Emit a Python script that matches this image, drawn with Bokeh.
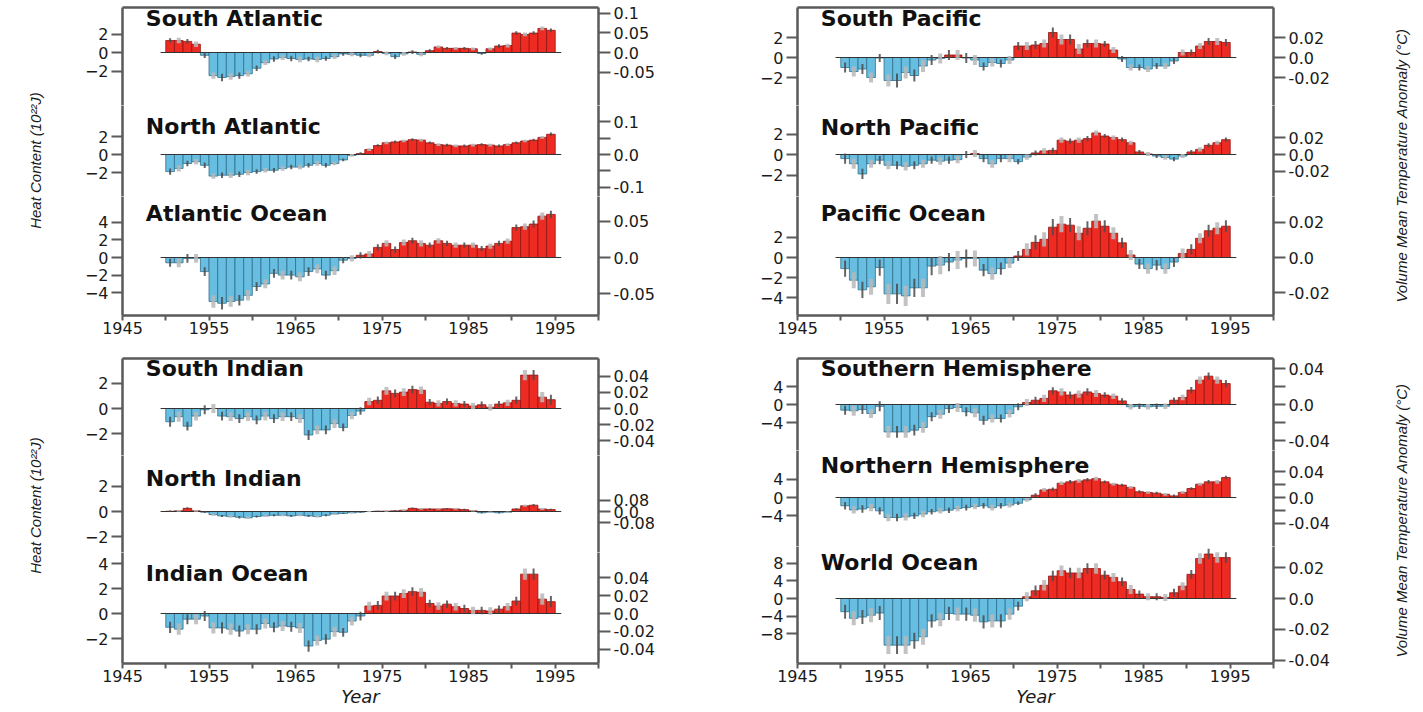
from math import pi
from bokeh.plotting import figure
from bokeh.models import Range1d, LinearAxis, FixedTicker, Label, ColumnDataSource
from bokeh.layouts import row, column
from bokeh.embed import file_html
from bokeh.resources import INLINE
from bokeh.core.properties import value
from bokeh.transform import dodge

# ---------------- data ----------------
years = list(range(1950, 1995))
x_ticks = [1945, 1950, 1955, 1960, 1965, 1970, 1975, 1980, 1985, 1990, 1995, 2000]
x_tick_labels = ["1945", "", "1955", "", "1965", "", "1975", "", "1985", "", "1995", ""]

south_atlantic = [1.3, 1.3, 1.2, 0.9, -0.3, -2.5, -2.7, -2.6, -2.5, -2.3,
                  -1.7, -1.1, -0.7, -0.55, -0.65, -0.75, -0.7, -0.75, -0.65, -0.45,
                  -0.15, -0.2, -0.3, -0.3, 0.1, -0.1, -0.45, -0.15, 0.05, -0.2,
                  0.2, 0.6, 0.45, 0.45, 0.45, 0.4, -0.1, 0.4, 0.7, 0.75,
                  2.1, 1.95, 2.1, 2.6, 2.4]
south_atlantic_err = [0.25, 0.3, 0.25, 0.3, 0.3, 0.35, 0.4, 0.35, 0.35, 0.3,
                      0.3, 0.25, 0.3, 0.25, 0.3, 0.3, 0.25, 0.3, 0.25, 0.25,
                      0.2, 0.2, 0.2, 0.2, 0.2, 0.2, 0.25, 0.2, 0.2, 0.2,
                      0.15, 0.15, 0.15, 0.15, 0.15, 0.15, 0.15, 0.15, 0.2, 0.2,
                      0.2, 0.2, 0.2, 0.2, 0.2]
north_atlantic = [-1.9, -1.55, -1.0, -0.8, -1.2, -2.4, -2.3, -2.3, -2.2, -2.0,
                  -1.9, -1.75, -1.75, -1.55, -1.4, -1.4, -1.2, -1.0, -1.2, -1.0,
                  -0.6, -0.1, 0.1, 0.55, 1.0, 1.3, 1.4, 1.5, 1.65, 1.6,
                  1.3, 1.1, 1.05, 0.95, 0.95, 1.05, 1.1, 1.05, 0.95, 1.1,
                  1.3, 1.5, 1.6, 1.9, 2.25]
north_atlantic_err = [0.35, 0.35, 0.3, 0.3, 0.3, 0.3, 0.3, 0.3, 0.3, 0.3,
                      0.25, 0.25, 0.25, 0.25, 0.25, 0.25, 0.25, 0.25, 0.25, 0.2,
                      0.15, 0.15, 0.15, 0.15, 0.15, 0.15, 0.15, 0.15, 0.15, 0.15,
                      0.15, 0.15, 0.15, 0.15, 0.15, 0.15, 0.15, 0.15, 0.15, 0.15,
                      0.15, 0.15, 0.15, 0.15, 0.2]
atlantic = [-0.6, -0.6, -0.1, -0.1, -1.6, -5.0, -5.2, -5.0, -4.85, -4.3,
            -3.3, -3.0, -1.8, -2.0, -2.0, -2.2, -1.6, -1.3, -2.0, -1.5,
            -0.3, -0.1, 0.25, 0.4, 1.15, 1.6, 0.9, 1.7, 1.9, 1.6,
            1.4, 1.9, 1.6, 1.4, 1.4, 1.4, 1.0, 1.3, 1.6, 1.85,
            3.4, 3.5, 3.8, 4.7, 4.9]
atlantic_err = [0.45, 0.5, 0.5, 0.5, 0.5, 0.7, 0.7, 0.6, 0.6, 0.6,
                0.5, 0.5, 0.5, 0.5, 0.5, 0.5, 0.5, 0.5, 0.5, 0.5,
                0.35, 0.35, 0.35, 0.35, 0.35, 0.35, 0.35, 0.35, 0.35, 0.35,
                0.3, 0.3, 0.3, 0.3, 0.3, 0.3, 0.3, 0.3, 0.3, 0.3,
                0.35, 0.35, 0.4, 0.4, 0.4]
south_pacific = [-1.0, -1.4, -1.15, -2.0, -0.05, -2.3, -2.3, -1.5, -1.8, -0.85,
                 -0.25, -0.1, 0.25, 0.25, -0.05, -0.25, -0.9, -0.5, -0.6, -0.25,
                 1.15, 1.15, 1.25, 1.4, 2.5, 1.8, 1.8, 0.85, 1.4, 1.4,
                 1.35, 0.75, -0.15, -1.0, -1.0, -1.15, -0.85, -0.85, -0.35, 0.5,
                 0.5, 1.15, 1.6, 1.6, 1.5]
south_pacific_err = [0.5, 0.5, 0.5, 0.5, 0.4, 0.6, 0.7, 0.6, 0.6, 0.6,
                     0.5, 0.5, 0.5, 0.5, 0.5, 0.5, 0.4, 0.4, 0.4, 0.4,
                     0.4, 0.4, 0.4, 0.4, 0.5, 0.5, 0.5, 0.5, 0.4, 0.4,
                     0.3, 0.3, 0.3, 0.3, 0.3, 0.3, 0.3, 0.3, 0.3, 0.3,
                     0.3, 0.3, 0.35, 0.35, 0.35]
north_pacific = [-0.4, -0.9, -1.9, -0.9, -0.55, -1.05, -1.05, -1.15, -1.05, -0.9,
                 -0.55, -0.65, -0.55, -0.5, 0.0, 0.1, -0.4, -0.9, -0.4, -0.4,
                 -0.7, -0.25, 0.15, 0.35, 0.4, 1.4, 1.3, 1.4, 1.55, 2.1,
                 1.8, 1.65, 1.45, 1.15, 0.25, 0.05, -0.15, -0.3, -0.45, -0.15,
                 0.25, 0.5, 0.9, 1.15, 1.45]
north_pacific_err = [0.5, 0.5, 0.5, 0.4, 0.4, 0.4, 0.4, 0.4, 0.4, 0.4,
                     0.35, 0.35, 0.35, 0.35, 0.35, 0.35, 0.35, 0.4, 0.35, 0.35,
                     0.25, 0.25, 0.25, 0.25, 0.25, 0.25, 0.25, 0.25, 0.25, 0.25,
                     0.2, 0.2, 0.2, 0.2, 0.2, 0.2, 0.2, 0.2, 0.2, 0.2,
                     0.2, 0.2, 0.2, 0.2, 0.2]
pacific = [-1.1, -2.25, -3.2, -2.9, -1.0, -3.6, -3.6, -3.8, -3.0, -3.0,
           -0.85, -0.75, -0.45, -0.25, -0.1, -0.1, -1.25, -1.6, -1.1, -0.55,
           0.15, 0.8, 1.5, 1.8, 3.0, 3.3, 3.2, 2.4, 2.9, 3.6,
           3.1, 2.4, 1.45, 0.25, -0.65, -1.1, -0.75, -1.1, -0.45, 0.4,
           0.8, 1.9, 2.65, 2.9, 3.1]
pacific_err = [0.8, 0.8, 0.8, 0.8, 0.8, 1.0, 1.0, 1.0, 0.9, 0.9,
               0.9, 0.9, 0.9, 0.9, 0.9, 0.8, 0.6, 0.6, 0.6, 0.5,
               0.5, 0.6, 0.7, 0.7, 0.8, 0.8, 0.7, 0.7, 0.7, 0.7,
               0.6, 0.6, 0.5, 0.5, 0.5, 0.5, 0.5, 0.5, 0.5, 0.5,
               0.5, 0.5, 0.6, 0.6, 0.6]
south_indian = [-1.05, -0.65, -1.4, -0.6, -0.1, 0.0, -0.6, -0.65, -0.8, -0.65,
                -0.9, -0.6, -0.8, -0.65, -0.65, -0.8, -2.1, -1.7, -1.7, -1.2,
                -1.5, -0.55, -0.2, 0.55, 0.65, 1.4, 1.2, 1.3, 1.5, 1.45,
                0.5, 0.4, 0.55, 0.4, 0.35, 0.2, 0.3, 0.1, 0.35, 0.45,
                0.65, 2.65, 2.65, 0.9, 0.7]
south_indian_err = [0.4, 0.4, 0.35, 0.35, 0.35, 0.35, 0.35, 0.35, 0.35, 0.35,
                    0.35, 0.35, 0.35, 0.35, 0.35, 0.35, 0.4, 0.35, 0.35, 0.35,
                    0.3, 0.3, 0.3, 0.3, 0.3, 0.3, 0.3, 0.3, 0.3, 0.3,
                    0.25, 0.25, 0.25, 0.25, 0.25, 0.25, 0.25, 0.25, 0.25, 0.25,
                    0.3, 0.4, 0.4, 0.4, 0.4]
north_indian = [0.02, 0.05, 0.25, 0.05, -0.05, -0.25, -0.35, -0.4, -0.45, -0.5,
                -0.4, -0.35, -0.3, -0.3, -0.35, -0.3, -0.35, -0.4, -0.3, -0.2,
                -0.15, -0.1, -0.05, 0.0, 0.02, 0.03, 0.05, 0.1, 0.25, 0.2,
                0.2, 0.2, 0.22, 0.2, 0.15, 0.05, -0.1, -0.05, -0.1, -0.05,
                0.2, 0.45, 0.5, 0.2, 0.15]
north_indian_err = [0.05, 0.06, 0.08, 0.06, 0.06, 0.08, 0.08, 0.1, 0.1, 0.1,
                    0.08, 0.08, 0.08, 0.08, 0.08, 0.08, 0.08, 0.08, 0.08, 0.06,
                    0.05, 0.05, 0.05, 0.05, 0.05, 0.05, 0.06, 0.06, 0.06, 0.06,
                    0.06, 0.06, 0.06, 0.06, 0.06, 0.05, 0.05, 0.05, 0.05, 0.05,
                    0.06, 0.08, 0.1, 0.08, 0.06]
indian = [-1.1, -1.25, -0.45, -0.45, -0.2, -1.15, -1.15, -1.25, -1.4, -1.25,
          -1.25, -0.8, -1.1, -1.0, -1.05, -1.15, -2.6, -2.15, -2.05, -1.45,
          -1.5, -0.6, -0.2, 0.6, 0.65, 1.4, 1.4, 1.6, 1.75, 1.7,
          0.8, 0.6, 0.75, 0.55, 0.4, 0.25, 0.25, 0.2, 0.35, 0.55,
          1.0, 3.15, 3.15, 1.15, 0.95]
indian_err = [0.45, 0.45, 0.4, 0.4, 0.4, 0.45, 0.45, 0.45, 0.45, 0.4,
              0.4, 0.4, 0.4, 0.4, 0.4, 0.4, 0.45, 0.4, 0.4, 0.4,
              0.35, 0.35, 0.35, 0.35, 0.35, 0.35, 0.35, 0.35, 0.35, 0.35,
              0.3, 0.3, 0.3, 0.3, 0.3, 0.3, 0.3, 0.3, 0.3, 0.3,
              0.35, 0.45, 0.45, 0.45, 0.45]
southern_hem = [-1.25, -1.4, -1.1, -2.0, -0.4, -6.1, -6.1, -6.1, -5.7, -5.1,
                -2.7, -2.15, -0.9, -0.65, -1.6, -1.85, -3.5, -3.1, -3.1, -2.0,
                -0.5, 0.45, 0.95, 1.35, 3.05, 2.8, 2.1, 2.3, 2.8, 2.45,
                2.1, 1.85, 0.8, -0.5, -0.4, -0.5, -0.4, -0.4, 0.95, 1.55,
                3.2, 5.4, 6.3, 5.4, 4.65]
southern_hem_err = [1.0, 1.1, 1.0, 1.0, 1.1, 1.3, 1.3, 1.3, 1.2, 1.2,
                    1.0, 1.0, 1.0, 1.0, 1.0, 1.0, 1.0, 0.9, 0.9, 0.9,
                    0.8, 0.8, 0.8, 0.8, 0.8, 0.8, 0.8, 0.8, 0.8, 0.8,
                    0.6, 0.6, 0.6, 0.6, 0.6, 0.6, 0.6, 0.6, 0.6, 0.6,
                    0.7, 0.8, 0.8, 0.8, 0.8]
northern_hem = [-1.8, -2.7, -2.5, -2.2, -2.9, -4.35, -4.35, -4.2, -4.0, -3.6,
                -3.1, -2.9, -2.75, -2.4, -2.2, -1.95, -1.8, -2.2, -1.8, -1.65,
                -1.25, -0.5, 0.5, 1.65, 1.8, 3.1, 3.4, 3.6, 3.85, 4.1,
                3.4, 2.9, 2.7, 2.2, 1.25, 1.1, 0.95, 0.7, 0.35, 1.1,
                1.95, 2.9, 3.4, 3.4, 4.35]
northern_hem_err = [0.8, 0.8, 0.8, 0.8, 0.8, 0.8, 0.8, 0.8, 0.7, 0.7,
                    0.6, 0.6, 0.6, 0.6, 0.6, 0.6, 0.6, 0.6, 0.6, 0.5,
                    0.4, 0.4, 0.4, 0.4, 0.4, 0.4, 0.4, 0.4, 0.4, 0.4,
                    0.3, 0.3, 0.3, 0.3, 0.3, 0.3, 0.3, 0.3, 0.3, 0.3,
                    0.3, 0.3, 0.4, 0.4, 0.4]
world = [-3.0, -4.5, -4.2, -3.8, -3.3, -10.6, -10.6, -10.6, -9.6, -8.7,
         -5.1, -4.8, -3.4, -3.55, -3.55, -3.8, -5.3, -5.1, -5.1, -3.55,
         -1.75, 0.4, 1.75, 3.0, 5.1, 6.3, 5.8, 5.8, 6.8, 6.8,
         5.3, 4.8, 3.8, 2.05, 1.0, 0.4, 0.4, 0.25, 1.3, 2.8,
         5.5, 9.1, 10.1, 9.3, 9.3]
world_err = [1.6, 1.6, 1.6, 1.6, 1.6, 2.0, 2.0, 2.0, 1.8, 1.8,
             1.5, 1.5, 1.5, 1.5, 1.5, 1.5, 1.5, 1.5, 1.5, 1.3,
             1.0, 1.0, 1.2, 1.2, 1.2, 1.2, 1.2, 1.2, 1.2, 1.2,
             1.0, 1.0, 1.0, 1.0, 0.8, 0.8, 0.8, 0.8, 0.9, 0.9,
             1.0, 1.2, 1.2, 1.2, 1.2]

# ---------------- style ----------------
RED, RED_EDGE = "#ee2b23", "#8e1510"
BLUE, BLUE_EDGE = "#68bee0", "#2e6f8e"
WDARK, WLIGHT = "#4a4a4a", "#b9b9b9"
AX = "#5a5a5a"
TXT = "#1a1a1a"
FONT = "DejaVu Sans"
FW = 476


def style_axis(ax, tick_out):
    ax.axis_line_color = AX
    ax.axis_line_width = 2.5
    ax.major_tick_line_color = AX
    ax.major_tick_line_width = 2
    ax.major_tick_out = tick_out
    ax.major_tick_in = 0
    ax.minor_tick_line_color = None
    ax.major_label_text_font = FONT
    ax.major_label_text_font_size = "16px"
    ax.major_label_text_color = TXT
    ax.major_label_standoff = 3


def make_sub(title, vals, errs, T, B, z, s, k, lticks, rticks, rlabels, ty,
             lb, rb, first=False, last=False, top=1, bb=0, xlabel=None):
    ymax = (z - T) / s
    ymin = -(B - z) / s
    p = figure(title=None, frame_width=FW, frame_height=B - T,
               x_range=Range1d(1945, 2000), y_range=Range1d(ymin, ymax),
               x_axis_location="below" if last else None,
               output_backend="svg", toolbar_location=None,
               min_border_left=lb, min_border_right=rb,
               min_border_top=top if first else 0,
               min_border_bottom=bb if last else 0)
    p.outline_line_color = None
    p.xgrid.visible = False
    p.ygrid.visible = False
    p.background_fill_color = "white"
    p.border_fill_color = "white"

    la = p.left[0]
    style_axis(la, 11)
    la.ticker = FixedTicker(ticks=lticks)

    p.extra_y_ranges = {"t": Range1d(ymin * k, ymax * k)}
    ra = LinearAxis(y_range_name="t", ticker=FixedTicker(ticks=rticks),
                    major_label_overrides=dict(zip(rticks, rlabels)))
    style_axis(ra, 12)
    p.add_layout(ra, "right")

    if first:
        ta = LinearAxis(ticker=FixedTicker(ticks=[]), major_tick_out=0, major_tick_in=0,
                        minor_tick_out=0, minor_tick_in=0, major_label_text_alpha=0,
                        axis_line_color=AX, axis_line_width=2.5)
        p.add_layout(ta, "above")
    if last:
        xa = p.below[0]
        style_axis(xa, 5)
        xa.major_label_standoff = 1
        xa.ticker = FixedTicker(ticks=x_ticks)
        xa.major_label_overrides = dict(zip(x_ticks, x_tick_labels))
        if xlabel:
            xa.axis_label = xlabel
            xa.axis_label_text_font = FONT
            xa.axis_label_text_font_style = "italic"
            xa.axis_label_text_font_size = "18px"
            xa.axis_label_text_color = TXT
            xa.axis_label_standoff = 1

    n = len(vals)
    src = ColumnDataSource(dict(
        year=years, val=vals,
        lo=[v - e for v, e in zip(vals, errs)],
        hi=[v + e for v, e in zip(vals, errs)],
        fill=[RED if v >= 0 else BLUE for v in vals],
        edge=[RED_EDGE if v >= 0 else BLUE_EDGE for v in vals],
        ec=[WDARK if i % 2 == 0 else WLIGHT for i in range(n)],
        ew=[2.0 if i % 2 == 0 else 4.0 for i in range(n)],
    ))
    xs = dodge("year", 0.5)
    p.vbar(x=xs, width=1, top="val", bottom=0, fill_color="fill",
           line_color="edge", line_width=0.8, source=src)
    p.segment(x0=[years[0] - 0.6], x1=[years[-1] + 1.7], y0=[0], y1=[0],
              line_color="#333333", line_width=1.2)
    p.segment(x0=xs, x1=xs, y0="lo", y1="hi", line_color="ec", line_width="ew",
              line_alpha=0.85, source=src)

    p.add_layout(Label(x=1947.7, y=(z - ty) / s, text=title, text_font=FONT,
                       text_font_style="bold", text_font_size="22px", text_color="#111111",
                       text_baseline="middle", text_align="left"))
    return p


def side_label(text, w, h, size, xpos):
    p = figure(title=None, width=w, height=h, x_range=Range1d(0, 1), y_range=Range1d(0, 1),
               x_axis_location=None, y_axis_location=None, min_border=0,
               output_backend="svg", toolbar_location=None)
    p.outline_line_color = None
    p.xgrid.visible = False
    p.ygrid.visible = False
    p.text(x=[xpos], y=[0.5], text=[text], angle=pi / 2, text_align="center",
           text_baseline="middle", text_font=value("Liberation Sans"),
           text_font_style="italic", text_font_size=size, text_color=TXT)
    return p


LB_L, RB_L = 60, 135
LB_R, RB_R = 64, 116

# top-left: Atlantic
tl = column(
    make_sub("South Atlantic", south_atlantic, south_atlantic_err, 7, 105, 52, 9.25, 0.0237,
             [-2, 0, 2], [0.1, 0.05, 0.0, -0.05], ["0.1", "0.05", "0.0", "-0.05"], 18,
             LB_L, RB_L, first=True, top=7),
    make_sub("North Atlantic", north_atlantic, north_atlantic_err, 105, 196, 154, 9.0, 0.0273,
             [-2, 0, 2], [0.1, 0.05, 0.0, -0.05, -0.1], ["0.1", "", "0.0", "", "-0.1"], 126,
             LB_L, RB_L),
    make_sub("Atlantic Ocean", atlantic, atlantic_err, 196, 315, 257, 8.8, 0.0122,
             [-4, -2, 0, 2, 4], [0.05, 0.0, -0.05], ["0.05", "0.0", "-0.05"], 213,
             LB_L, RB_L, last=True, bb=36),
)
# top-right: Pacific
tr = column(
    make_sub("South Pacific", south_pacific, south_pacific_err, 7, 105, 57, 10.0, 0.01,
             [-2, 0, 2], [0.02, 0.0, -0.02], ["0.02", "0.0", "-0.02"], 18,
             LB_R, RB_R, first=True, top=7),
    make_sub("North Pacific", north_pacific, north_pacific_err, 105, 196, 154, 10.25, 0.0122,
             [-2, 0, 2], [0.02, 0.0, -0.02], ["0.02", "0.0", "-0.02"], 127,
             LB_R, RB_R),
    make_sub("Pacific Ocean", pacific, pacific_err, 196, 315, 257, 10.1, 0.0057,
             [-4, -2, 0, 2], [0.02, 0.0, -0.02], ["0.02", "0.0", "-0.02"], 213,
             LB_R, RB_R, last=True, bb=36),
)
# bottom-left: Indian
bl = column(
    make_sub("South Indian", south_indian, south_indian_err, 358, 455, 408, 12.6, 0.0157,
             [-2, 0, 2], [0.04, 0.02, 0.0, -0.02, -0.04],
             ["0.04", "0.02", "0.0", "-0.02", "-0.04"], 368, LB_L, RB_L, first=True, top=7),
    make_sub("North Indian", north_indian, north_indian_err, 455, 552, 511, 12.6, 0.091,
             [-2, 0, 2], [0.08, 0.0, -0.08], ["0.08", "0.0", "-0.08"], 478, LB_L, RB_L),
    make_sub("Indian Ocean", indian, indian_err, 552, 663, 613, 12.5, 0.0139,
             [-2, 0, 2, 4], [0.04, 0.02, 0.0, -0.02, -0.04],
             ["0.04", "0.02", "0.0", "-0.02", "-0.04"], 573, LB_L, RB_L,
             last=True, bb=40, xlabel="Year"),
)
# bottom-right: hemispheres / world
br = column(
    make_sub("Southern Hemisphere", southern_hem, southern_hem_err, 358, 450, 404, 4.5, 0.005,
             [-4, 0, 4], [0.04, 0.02, 0.0, -0.02, -0.04], ["0.04", "", "0.0", "", "-0.04"], 368,
             LB_R, RB_R, first=True, top=7),
    make_sub("Northern Hemisphere", northern_hem, northern_hem_err, 450, 546, 497, 4.6, 0.0071,
             [-4, 0, 4], [0.04, 0.02, 0.0, -0.02, -0.04], ["0.04", "", "0.0", "", "-0.04"], 465,
             LB_R, RB_R),
    make_sub("World Ocean", world, world_err, 546, 663, 598, 4.4, 0.00285,
             [-8, -4, 0, 4, 8], [0.02, 0.0, -0.02, -0.04], ["0.02", "0.0", "-0.02", "-0.04"], 562,
             LB_R, RB_R, last=True, bb=40, xlabel="Year"),
)

HEAT = "Heat Content (10\u00b2\u00b2J)"
TEMP = "Volume Mean Temperature Anomaly (\u00b0C)"

layout = column(
    row(side_label(HEAT, 62, 320, "15px", 0.56), tl, tr, side_label(TEMP, 24, 330, "15px", 0.5)),
    row(side_label(HEAT, 62, 308, "15px", 0.56), bl, br, side_label(TEMP, 24, 338, "15px", 0.5)),
)

open("out.html", "w").write(file_html(layout, INLINE, "Ocean heat content"))
